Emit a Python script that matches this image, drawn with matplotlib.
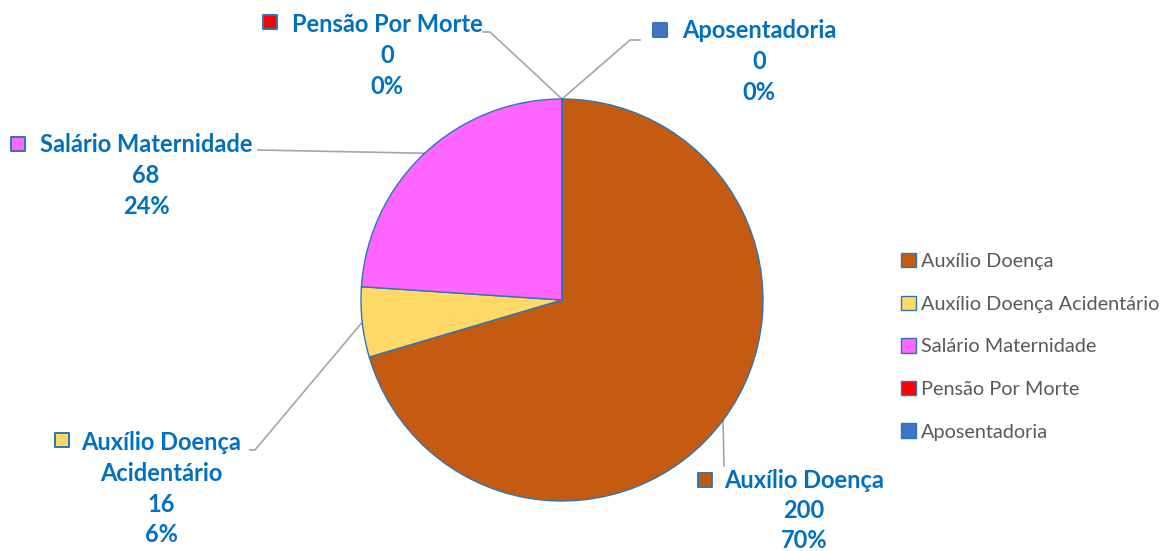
import numpy as np
import matplotlib
matplotlib.use("Agg")
import matplotlib.pyplot as plt

categorias = ['Auxílio Doença', 'Auxílio Doença Acidentário', 'Salário Maternidade',
              'Pensão Por Morte', 'Aposentadoria']
valores = [200, 16, 68, 0, 0]
cores = ['#C55A11', '#FFD966', '#FF66FF', '#FF0000', '#4472C4']

plt.rcParams['font.family'] = ['Lato', 'DejaVu Sans']

W, H = 1170, 551
fig = plt.figure(figsize=(W / 100, H / 100), dpi=100)
ax = fig.add_axes([0, 0, 1, 1])

cx, cy, r = 562, H - 300, 201
wedges, _ = ax.pie(valores, colors=cores, startangle=90, counterclock=False,
                   center=(cx, cy), radius=r, frame=True,
                   wedgeprops=dict(edgecolor='#2E75B6', linewidth=1.0))
ax.set_xlim(0, W)
ax.set_ylim(0, H)
ax.set_aspect('equal')
ax.axis('off')

azul = '#0070C0'
cinza_linha = '#A6A6A6'
total = sum(valores)

# posicao dos rotulos (centro x, y das linhas em pixels da imagem), marcador, fim da linha guia
rotulos = [
    dict(nome=['Auxílio Doença'], x=804, y=480, mk=(705, 480), guia=[(724, 466)]),
    dict(nome=['Auxílio Doença', 'Acidentário'], x=161, y=443, mk=(62, 440), guia=[(255, 450), (250, 450)]),
    dict(nome=['Salário Maternidade'], x=146, y=145, mk=(18, 144), guia=[(258, 150)]),
    dict(nome=['Pensão Por Morte'], x=387, y=25, mk=(270, 22), guia=[(490, 32), (483, 32)]),
    dict(nome=['Aposentadoria'], x=759, y=31, mk=(660, 30), guia=[(630, 40), (640, 40)]),
]

for w, v, c, rot in zip(wedges, valores, cores, rotulos):
    ang = np.deg2rad((w.theta1 + w.theta2) / 2)
    ax0, ay0 = cx + r * np.cos(ang), cy + r * np.sin(ang)
    xs = [ax0] + [p[0] for p in rot['guia']]
    ys = [ay0] + [H - p[1] for p in rot['guia']]
    ax.plot(xs, ys, color=cinza_linha, lw=1.2, zorder=0)

    linhas = rot['nome'] + [str(v), f'{round(100 * v / total)}%']
    for i, t in enumerate(linhas):
        ax.text(rot['x'], H - (rot['y'] + 30.5 * i), t, ha='center', va='center',
                fontsize=17, fontweight='bold', color=azul)
    ax.scatter([rot['mk'][0]], [H - rot['mk'][1]], marker='s', s=95,
               facecolor=c, edgecolor='#2E75B6', linewidths=1.4)

leg = ax.legend(wedges, categorias, loc='upper left', bbox_to_anchor=(893, H - 245),
                bbox_transform=ax.transData, frameon=False, fontsize=14.3,
                handlelength=0.75, handleheight=0.75, handletextpad=0.25,
                labelspacing=1.28, borderaxespad=0)
for t in leg.get_texts():
    t.set_color('#595959')

fig.savefig('out.png', dpi=100)
